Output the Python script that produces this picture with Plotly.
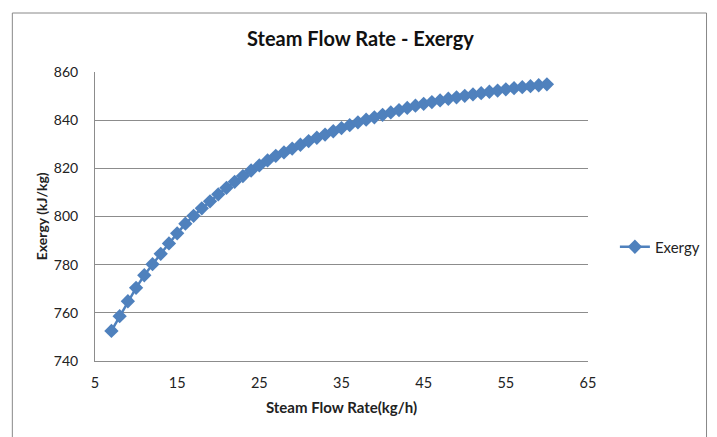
import plotly.graph_objects as go

# Steam flow rate (kg/h) and exergy (kJ/kg)
flow_rate = list(range(7, 61))
exergy = [
    752.5, 758.6, 764.8, 770.4, 775.6, 780.2, 784.5, 788.8, 793.0, 797.0,
    800.3, 803.4, 806.3, 809.2, 811.9, 814.4, 816.8, 819.1, 821.2, 823.3,
    825.2, 826.6, 828.2, 829.8, 831.3, 832.7, 834.0, 835.4, 836.7, 837.9,
    839.1, 840.2, 841.2, 842.2, 843.2, 844.2, 845.1, 846.0, 846.8, 847.5,
    848.2, 848.9, 849.5, 850.1, 850.7, 851.2, 851.8, 852.3, 852.8, 853.3,
    853.7, 854.1, 854.5, 854.9,
]
x_ticks = [5, 15, 25, 35, 45, 55, 65]
y_ticks = [740, 760, 780, 800, 820, 840, 860]

FONT = "Lato, Open Sans, sans-serif"
BLUE = "#4F81BD"
GRID = "#8C8C8C"

W, H = 717, 437
L, R, T, B = 95, 127, 72, 76
pw, ph = W - L - R, H - T - B


def px_x(p):
    return (p - L) / pw


def px_y(p):
    return (H - B - p) / ph


fig = go.Figure()
fig.add_trace(go.Scatter(
    x=flow_rate, y=exergy, name="Exergy", mode="lines+markers",
    line=dict(color=BLUE, width=2.5),
    marker=dict(symbol="diamond", size=11, color=BLUE),
))

fig.update_layout(
    width=W, height=H,
    margin=dict(l=L, r=R, t=T, b=B),
    paper_bgcolor="white", plot_bgcolor="white",
    font=dict(family=FONT, size=15, color="#222222"),
    showlegend=True,
    legend=dict(x=px_x(617), y=px_y(247), xanchor="left", yanchor="middle",
                font=dict(size=15, color="#222222"), bgcolor="rgba(0,0,0,0)",
                itemwidth=30),
    xaxis=dict(range=[5, 65], tickvals=x_ticks, showgrid=False, zeroline=False,
               showline=True, linecolor=GRID, linewidth=1, ticks="",
               ticklabelstandoff=9, tickfont=dict(size=14.5), fixedrange=True,
               title=dict(text="<b>Steam Flow Rate(kg/h)</b>", font=dict(size=15), standoff=12)),
    yaxis=dict(range=[740, 860], tickvals=y_ticks, showgrid=True, gridcolor=GRID,
               gridwidth=1, zeroline=False, showline=True, linecolor=GRID,
               linewidth=1, ticks="", ticklabelstandoff=13, tickfont=dict(size=14),
               fixedrange=True),
    shapes=[dict(type="rect", xref="paper", yref="paper",
                 x0=px_x(12), x1=px_x(709), y0=px_y(460), y1=px_y(13),
                 line=dict(color="#888888", width=1), layer="below")],
    annotations=[
        dict(text="<b>Steam Flow Rate - Exergy</b>", xref="paper", yref="paper",
             x=px_x(362), y=px_y(38), xanchor="center", yanchor="middle",
             showarrow=False, font=dict(size=20, color="#111111")),
        dict(text="<b>Exergy (kJ/kg)</b>", xref="paper", yref="paper",
             x=px_x(41), y=px_y(216), xanchor="center", yanchor="middle",
             textangle=-90, showarrow=False, font=dict(size=14, color="#222222")),
    ],
)

fig.write_html("out.html")
